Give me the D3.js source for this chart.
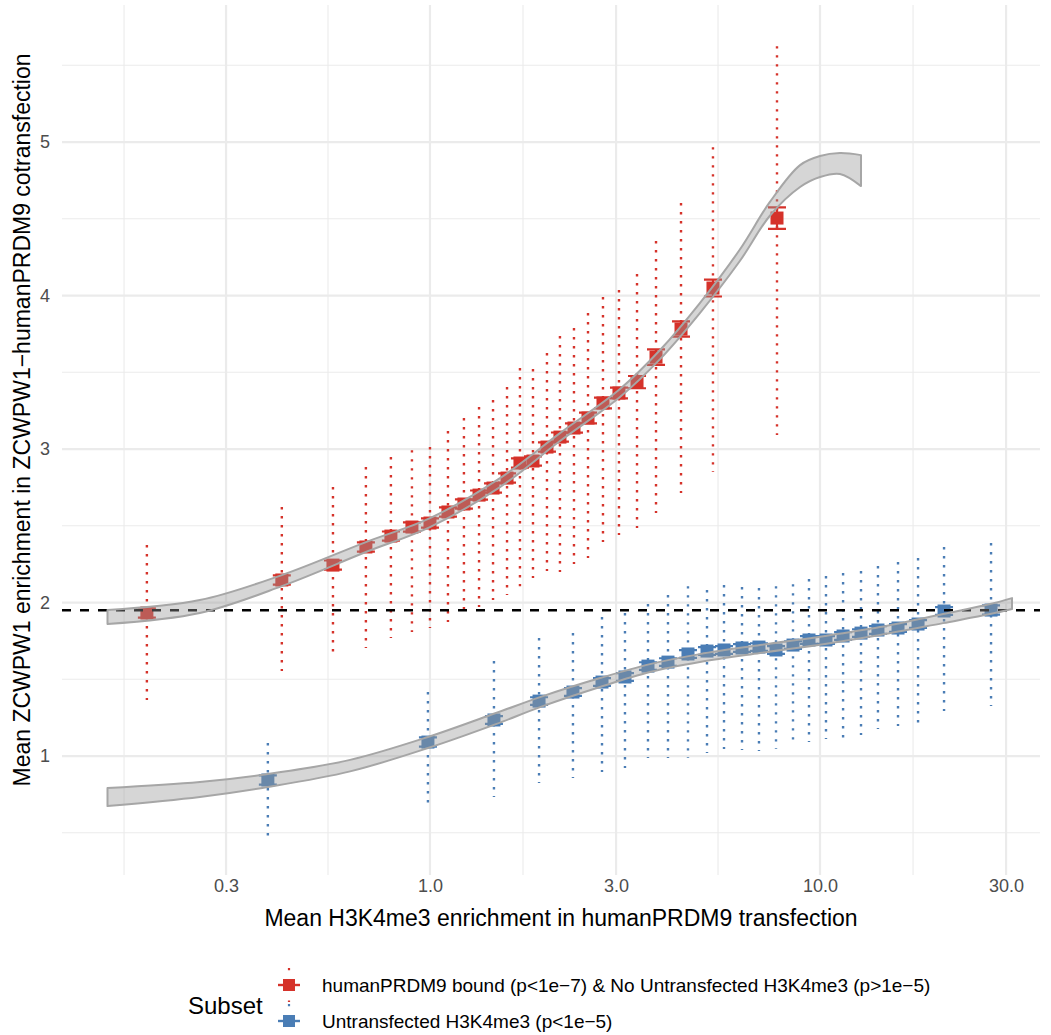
<!DOCTYPE html>
<html>
<head>
<meta charset="utf-8">
<script src="https://cdn.jsdelivr.net/npm/d3@7"></script>
<style>
  body { margin: 0; background: #fff; }
  svg { font-family: "Liberation Sans", Arial, Helvetica, sans-serif; }
</style>
</head>
<body>
<svg class="chart"></svg>
<script>
// red subset: humanPRDM9 bound & no untransfected H3K4me3
var redX = [0.188, 0.417, 0.564, 0.685, 0.794, 0.899, 1.0, 1.112, 1.222, 1.336, 1.451, 1.576, 1.701, 1.837, 1.995, 2.154, 2.34, 2.542, 2.777, 3.052, 3.395, 3.798, 4.402, 5.316, 7.758];
var redMean = [1.932, 2.147, 2.244, 2.362, 2.433, 2.492, 2.518, 2.590, 2.642, 2.700, 2.746, 2.811, 2.909, 2.922, 3.013, 3.078, 3.137, 3.202, 3.300, 3.365, 3.436, 3.599, 3.782, 4.049, 4.505];
var redSe = [0.03, 0.03, 0.03, 0.03, 0.03, 0.03, 0.03, 0.03, 0.03, 0.03, 0.03, 0.03, 0.03, 0.03, 0.03, 0.03, 0.03, 0.035, 0.035, 0.035, 0.04, 0.05, 0.05, 0.055, 0.07];
var redLo = [1.365, 1.554, 1.638, 1.704, 1.769, 1.808, 1.834, 1.873, 1.912, 1.971, 2.016, 2.049, 2.107, 2.160, 2.205, 2.199, 2.251, 2.290, 2.394, 2.440, 2.485, 2.583, 2.713, 2.850, 3.091];
var redHi = [2.375, 2.622, 2.752, 2.883, 2.948, 2.993, 3.013, 3.117, 3.202, 3.274, 3.319, 3.404, 3.528, 3.521, 3.625, 3.736, 3.788, 3.886, 3.990, 4.036, 4.140, 4.355, 4.603, 4.967, 5.625];

// blue subset: untransfected H3K4me3
var blueX = [0.384, 0.988, 1.459, 1.904, 2.326, 2.761, 3.162, 3.622, 4.076, 4.587, 5.132, 5.674, 6.31, 6.975, 7.713, 8.527, 9.371, 10.36, 11.46, 12.74, 14.08, 15.85, 17.84, 20.8, 27.45];
var blueMean = [0.844, 1.091, 1.235, 1.358, 1.417, 1.482, 1.515, 1.586, 1.612, 1.665, 1.684, 1.691, 1.704, 1.710, 1.691, 1.723, 1.756, 1.756, 1.782, 1.801, 1.821, 1.834, 1.860, 1.945, 1.951];
var blueSe = [0.03, 0.03, 0.025, 0.025, 0.025, 0.025, 0.025, 0.025, 0.025, 0.025, 0.025, 0.025, 0.025, 0.025, 0.025, 0.025, 0.025, 0.025, 0.025, 0.025, 0.025, 0.025, 0.025, 0.025, 0.03];
var blueLo = [0.479, 0.655, 0.733, 0.824, 0.857, 0.896, 0.922, 0.987, 0.987, 0.987, 1.020, 1.046, 1.039, 1.033, 1.046, 1.072, 1.091, 1.111, 1.117, 1.137, 1.176, 1.195, 1.215, 1.293, 1.326];
var blueHi = [1.085, 1.417, 1.619, 1.769, 1.801, 1.906, 1.932, 1.990, 2.049, 2.107, 2.081, 2.114, 2.101, 2.094, 2.107, 2.120, 2.153, 2.173, 2.192, 2.205, 2.238, 2.264, 2.290, 2.362, 2.388];

// smooth fits (confidence band)
var redFitX = [0.149, 0.257, 0.417, 0.685, 1.0, 1.512, 2.154, 3.07, 3.89, 4.92, 6.23, 7.44, 8.89, 10.0, 11.25, 12.74];
var redFitLo = [1.860, 1.932, 2.107, 2.329, 2.492, 2.752, 3.052, 3.339, 3.586, 3.886, 4.225, 4.520, 4.707, 4.772, 4.792, 4.713];
var redFitHi = [1.951, 2.016, 2.179, 2.394, 2.550, 2.811, 3.104, 3.391, 3.645, 3.951, 4.300, 4.610, 4.850, 4.909, 4.928, 4.915];
var blueFitX = [0.149, 0.257, 0.384, 0.624, 0.988, 1.476, 1.915, 2.729, 3.665, 4.92, 7.02, 10.3, 14.25, 20.67, 27.29, 31.07];
var blueFitLo = [0.674, 0.733, 0.798, 0.900, 1.052, 1.208, 1.319, 1.450, 1.547, 1.612, 1.671, 1.730, 1.788, 1.866, 1.925, 1.958];
var blueFitHi = [0.792, 0.831, 0.883, 0.975, 1.124, 1.280, 1.384, 1.508, 1.599, 1.664, 1.723, 1.782, 1.840, 1.925, 1.990, 2.029];

var refLine = 1.95;
var xTicks = [0.3, 1, 3, 10, 30];
var xTickLabels = ["0.3", "1.0", "3.0", "10.0", "30.0"];
var xMinor = [0.1643, 0.5477, 1.732, 5.477, 17.32];
var yTicks = [1, 2, 3, 4, 5];
var yMinor = [0.5, 1.5, 2.5, 3.5, 4.5, 5.5];

var subsets = ["humanPRDM9 bound (p<1e\u22127) & No Untransfected H3K4me3 (p>1e\u22125)", "Untransfected H3K4me3 (p<1e\u22125)"];
var colors = ["#d5322a", "#4a7db5"];

var frameWidth = 1051;
var frameHeight = 1035;
var pLeft = 62, pRight = 1040, pTop = 5, pBottom = 875;

var svg = d3.select(".chart")
  .attr("width", frameWidth)
  .attr("height", frameHeight);

var xScale = d3.scaleLog().domain([0.1139, 36.65]).range([pLeft, pRight]);
var yScale = d3.scaleLinear().domain([0.225, 5.893]).range([pBottom, pTop]);

// grid
var grid = svg.append("g");
grid.selectAll("line.ymin").data(yMinor).enter().append("line")
  .attr("x1", pLeft).attr("x2", pRight)
  .attr("y1", function(d) { return yScale(d); }).attr("y2", function(d) { return yScale(d); })
  .attr("stroke", "#ebebeb").attr("stroke-width", 1.1);
grid.selectAll("line.xmin").data(xMinor).enter().append("line")
  .attr("y1", pTop).attr("y2", pBottom)
  .attr("x1", function(d) { return xScale(d); }).attr("x2", function(d) { return xScale(d); })
  .attr("stroke", "#ebebeb").attr("stroke-width", 1.1);
grid.selectAll("line.ymaj").data(yTicks).enter().append("line")
  .attr("x1", pLeft).attr("x2", pRight)
  .attr("y1", function(d) { return yScale(d); }).attr("y2", function(d) { return yScale(d); })
  .attr("stroke", "#ebebeb").attr("stroke-width", 2.2);
grid.selectAll("line.xmaj").data(xTicks).enter().append("line")
  .attr("y1", pTop).attr("y2", pBottom)
  .attr("x1", function(d) { return xScale(d); }).attr("x2", function(d) { return xScale(d); })
  .attr("stroke", "#ebebeb").attr("stroke-width", 2.2);

// axes (labels only, like theme_minimal)
var xAxis = svg.append("g")
  .attr("transform", "translate(0," + (pBottom + 1) + ")")
  .call(d3.axisBottom(xScale).tickValues(xTicks).tickSize(0)
    .tickFormat(function(d, i) { return xTickLabels[i]; }));
xAxis.select(".domain").remove();
xAxis.selectAll("text").attr("font-size", 18).attr("fill", "#4d4d4d")
  .attr("font-family", "Liberation Sans, Arial, sans-serif");

var yAxis = svg.append("g")
  .attr("transform", "translate(" + (pLeft - 9) + ",0)")
  .call(d3.axisLeft(yScale).tickValues(yTicks).tickSize(0).tickFormat(d3.format("d")));
yAxis.select(".domain").remove();
yAxis.selectAll("text").attr("font-size", 18).attr("fill", "#4d4d4d")
  .attr("font-family", "Liberation Sans, Arial, sans-serif");

function makeRows(xs, means, ses, los, his) {
  return xs.map(function(x, i) {
    return { x: x, m: means[i], se: ses[i], lo: los[i], hi: his[i] };
  });
}
var groups = [
  makeRows(redX, redMean, redSe, redLo, redHi),
  makeRows(blueX, blueMean, blueSe, blueLo, blueHi)
];

groups.forEach(function(rows, gi) {
  var g = svg.append("g");
  var col = colors[gi];
  // dotted ranges
  g.selectAll("line.range").data(rows).enter().append("line")
    .attr("x1", function(d) { return xScale(d.x); })
    .attr("x2", function(d) { return xScale(d.x); })
    .attr("y1", function(d) { return yScale(d.hi); })
    .attr("y2", function(d) { return yScale(d.lo); })
    .attr("stroke", col).attr("stroke-width", 2.4)
    .attr("stroke-dasharray", "2.4,6.6");
  // error bars
  g.selectAll("path.err").data(rows).enter().append("path")
    .attr("d", function(d) {
      var cx = xScale(d.x), y1 = yScale(d.m + d.se), y2 = yScale(d.m - d.se);
      return "M" + (cx - 9) + "," + y1 + "H" + (cx + 9) +
             "M" + cx + "," + y1 + "V" + y2 +
             "M" + (cx - 9) + "," + y2 + "H" + (cx + 9);
    })
    .attr("fill", "none").attr("stroke", col).attr("stroke-width", 2.2);
  // points
  g.selectAll("rect.pt").data(rows).enter().append("rect")
    .attr("x", function(d) { return xScale(d.x) - 6.5; })
    .attr("y", function(d) { return yScale(d.m) - 6.5; })
    .attr("width", 13).attr("height", 13)
    .attr("fill", col);
});

// reference line
svg.append("line")
  .attr("x1", pLeft).attr("x2", pRight)
  .attr("y1", yScale(refLine)).attr("y2", yScale(refLine))
  .attr("stroke", "#000").attr("stroke-width", 2.4)
  .attr("stroke-dasharray", "9,9");

// smooth bands
var fits = [
  redFitX.map(function(x, i) { return { x: x, lo: redFitLo[i], hi: redFitHi[i] }; }),
  blueFitX.map(function(x, i) { return { x: x, lo: blueFitLo[i], hi: blueFitHi[i] }; })
];
var area = d3.area()
  .x(function(d) { return xScale(d.x); })
  .y0(function(d) { return yScale(d.lo); })
  .y1(function(d) { return yScale(d.hi); })
  .curve(d3.curveCatmullRom.alpha(0.5));
fits.forEach(function(f) {
  svg.append("path").datum(f)
    .attr("d", area)
    .attr("fill", "#999999").attr("fill-opacity", 0.4)
    .attr("stroke", "#a6a6a6").attr("stroke-width", 2)
    .attr("stroke-linejoin", "round");
});

// axis titles
svg.append("text")
  .attr("x", 561).attr("y", 926)
  .attr("text-anchor", "middle").attr("font-size", 23).attr("fill", "#000")
  .text("Mean H3K4me3 enrichment in humanPRDM9 transfection");
svg.append("text")
  .attr("transform", "translate(30,420) rotate(-90)")
  .attr("text-anchor", "middle").attr("font-size", 23).attr("fill", "#000")
  .text("Mean ZCWPW1 enrichment in ZCWPW1\u2212humanPRDM9 cotransfection");

// legend
var leg = svg.append("g");
leg.append("text").attr("x", 188).attr("y", 1014)
  .attr("font-size", 24).attr("fill", "#000").text("Subset");
subsets.forEach(function(s, i) {
  var cy = 985 + i * 36;
  var k = leg.append("g");
  k.append("line").attr("x1", 289).attr("x2", 289).attr("y1", cy - 17).attr("y2", cy + 17)
    .attr("stroke", colors[i]).attr("stroke-width", 2.2).attr("stroke-dasharray", "2.2,14");
  k.append("line").attr("x1", 278).attr("x2", 300).attr("y1", cy).attr("y2", cy)
    .attr("stroke", colors[i]).attr("stroke-width", 2.4);
  k.append("rect").attr("x", 283).attr("y", cy - 6).attr("width", 12).attr("height", 12)
    .attr("fill", colors[i]);
  leg.append("text").attr("x", 322).attr("y", cy + 7)
    .attr("font-size", 19).attr("fill", "#000").text(s);
});
</script>
</body>
</html>
